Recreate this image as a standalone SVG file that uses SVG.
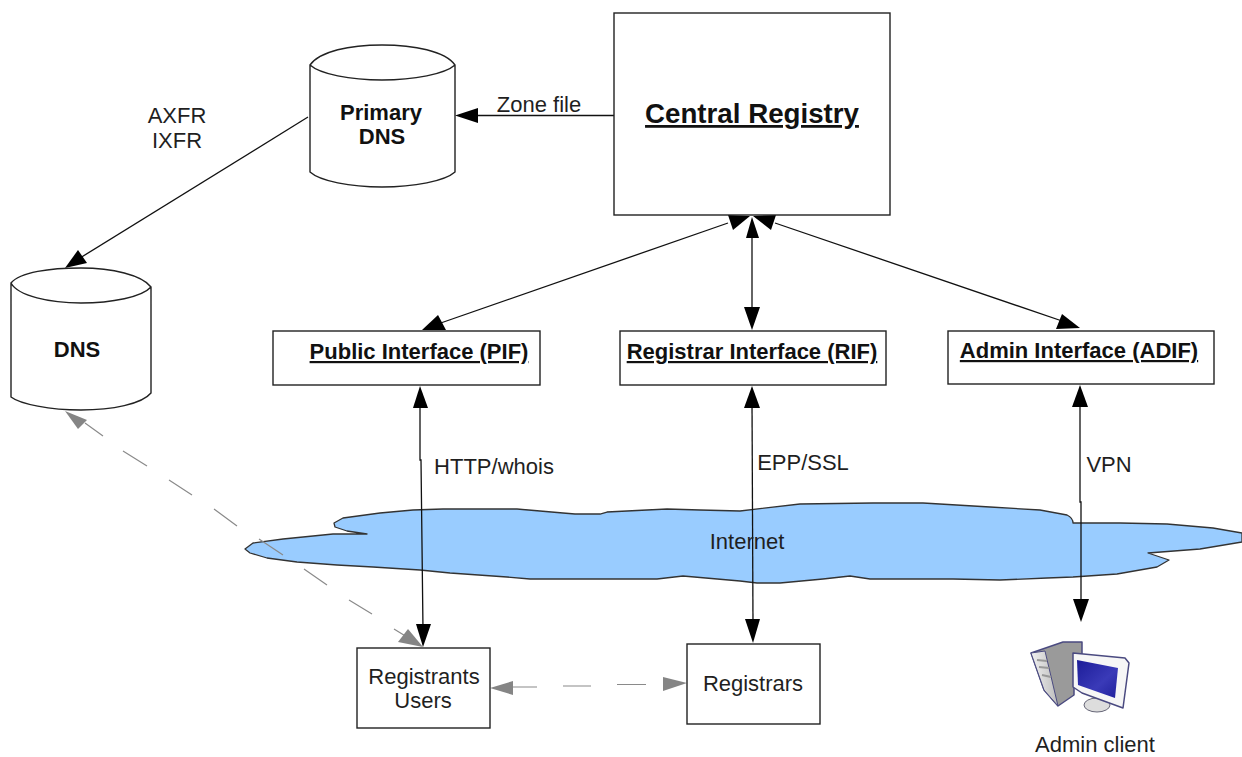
<svg xmlns="http://www.w3.org/2000/svg" width="1242" height="757" viewBox="0 0 1242 757">
<style>
text{font-family:"Liberation Sans",Arial,sans-serif;fill:#1f1f1f;text-anchor:middle;font-size:22px}
.b{font-weight:bold;fill:#111}
.u{text-decoration:underline}
.box{fill:#fff;stroke:#222;stroke-width:1.4}
.l{fill:none;stroke:#111;stroke-width:1.3}
.g{fill:none;stroke:#8a8a8a;stroke-width:1.2}
.ah{fill:#000}.ag{fill:#858585}
</style>
<defs>
<linearGradient id="screen" x1="0" y1="0" x2="1" y2="1"><stop offset="0" stop-color="#1c1c98"/><stop offset="0.6" stop-color="#3a3ab8"/><stop offset="1" stop-color="#20209c"/></linearGradient>
<linearGradient id="tower" x1="0" y1="0" x2="1" y2="0"><stop offset="0" stop-color="#f0f0f0"/><stop offset="1" stop-color="#bdbdbd"/></linearGradient>
</defs>
<rect width="1242" height="757" fill="#fff"/>
<g id="cloud"><path d="M245 549 L253 543 L283 539 L333 534 L347 534 L367 534 L347 531 L335 527 L334 523 L343 518 L380 513 L413 510 L443 509 L517 509 L563 513 L575 514 L600 514 L607 512 L667 509 L700 510 L740 511 L800 504 L873 503 L923 503 L990 507 L1040 510 L1067 515 C1071 517 1073 520 1073 523 L1120 523 L1167 524 L1213 528 L1242 533 L1242 542 L1200 549 L1148 553 L1169 560 L1157 567 L1117 574 L1073 577 L1047 578 L1000 580 L953 579 L870 579 L850 576 L823 579 L780 583 L757 583 L740 581 L683 576 L657 579 L530 579 L507 577 L450 573 L420 570 L373 567 L337 565 L297 562 L267 558 L250 553 Z" fill="#99ccff" stroke="#333" stroke-width="1.300" stroke-linejoin="round"/></g>
<g id="connectors">
<line class="l" x1="308" y1="117" x2="80" y2="258"/>
<polygon class="ah" points="65,268 78,250 87,263"/>
<line class="l" x1="625" y1="115.500" x2="475" y2="115.500"/>
<polygon class="ah" points="455,115.500 478,108 478,123"/>
<line class="l" x1="435" y1="325" x2="728" y2="223"/>
<polygon class="ah" points="422,330 438,315 446,330"/>
<polygon class="ah" points="750,216 728,215 733,230"/>
<line class="l" x1="752" y1="230" x2="752" y2="312"/>
<polygon class="ah" points="752,217 746,238 759,238"/>
<polygon class="ah" points="752,330 744,307 760,307"/>
<line class="l" x1="775" y1="223" x2="1065" y2="322"/>
<polygon class="ah" points="753,216 776,215 771,230"/>
<polygon class="ah" points="1080,328 1056,329 1062,314"/>
<path class="l" d="M420 400 V460 L421 460 L423 630"/>
<polygon class="ah" points="420,386 413,408 428,408"/>
<polygon class="ah" points="423,647 416,624 431,624"/>
<line class="l" x1="752" y1="400" x2="753" y2="625"/>
<polygon class="ah" points="752,386 744,408 760,408"/>
<polygon class="ah" points="753,643 745,619 760,619"/>
<path class="l" d="M1080 400 V502 L1081 502 V605"/>
<polygon class="ah" points="1080,385 1072,407 1088,407"/>
<polygon class="ah" points="1081,622 1073,599 1089,599"/>
<path class="g" d="M85 423 L103 436 M123 451 L147 466 M169 480 L192 495 M214 509 L237 526 M259 539 L283 555 M304 569 L327 585 M349 600 L372 614 M394 629 L407 637"/>
<polygon class="ag" points="65,411 87,420 78,429"/>
<polygon class="ag" points="423,647 398,642 408,629"/>
<path class="g" d="M513 687 H537 M563 686 H591 M617 684.500 H646"/>
<polygon class="ag" points="490,688 513,681 513,695"/>
<polygon class="ag" points="687,683 663,677 663,691"/>
</g>
<g id="primary-dns"><path class="box" d="M310 65 V172 C320 181 350 187 382 187 C414 187 445 181 455 172 V65 C445 51 414 45 382 45 C350 45 320 51 310 65 C320 74 350 80 382 80 C414 80 445 74 455 65"/>
<text class="b" x="381" y="120">Primary</text><text class="b" x="382" y="144">DNS</text></g>
<g id="dns"><path class="box" d="M11 283 V397 C20 404 50 410 81 410 C112 410 142 404 151 393 V287 C142 275 112 268 81 268 C50 268 20 272 11 283 C18 296 50 303 81 303 C112 303 142 297 151 287"/>
<text class="b" x="77" y="357">DNS</text></g>
<g id="central-registry"><rect class="box" x="614" y="13" width="276" height="202"/>
<text class="b u" x="752" y="123" style="font-size:27.7px">Central Registry</text></g>
<g id="pif"><rect class="box" x="273" y="331" width="267" height="54"/>
<text class="b u" x="419" y="359">Public Interface (PIF)</text></g>
<g id="rif"><rect class="box" x="620" y="331" width="266" height="54"/>
<text class="b u" x="752" y="359">Registrar Interface (RIF)</text></g>
<g id="adif"><rect class="box" x="948" y="331" width="266" height="53"/>
<text class="b u" x="1079" y="358">Admin Interface (ADIF)</text></g>
<g id="registrants"><rect class="box" x="357" y="648" width="133" height="80"/>
<text x="424" y="684">Registrants</text><text x="423" y="708">Users</text></g>
<g id="registrars"><rect class="box" x="687" y="644" width="133" height="80"/>
<text x="753" y="691">Registrars</text></g>
<g id="admin-client">
<polygon points="1031,653 1063,642 1082,642 1082,654 1074,668 1074,695 1058,706 1044,690" fill="#9a9a9a" stroke="#4a4a80" stroke-width="1.500" stroke-linejoin="round"/>
<polygon points="1031,653 1045,651 1058,706 1044,690" fill="url(#tower)" stroke="#4a4a80" stroke-linejoin="round"/>
<path d="M1037 660 L1047 661 M1039 667 L1049 668 M1042 675 L1051 677" stroke="#999" stroke-width="2" fill="none"/>
<ellipse cx="1097" cy="705" rx="13" ry="7" fill="#ddd" stroke="#667"/>
<polygon points="1073,653 1125,658 1129,663 1123,708 1082,693 1073,687" fill="#f6f6f6" stroke="#4a4a80" stroke-width="1.500" stroke-linejoin="round"/>
<polygon points="1077,660 1118,668 1115,698 1078,685" fill="url(#screen)"/>
<text x="1095" y="752">Admin client</text></g>
<g id="labels">
<text x="177" y="123">AXFR</text>
<text x="177" y="148">IXFR</text>
<text x="539" y="112">Zone file</text>
<text x="494" y="474">HTTP/whois</text>
<text x="803" y="470">EPP/SSL</text>
<text x="1109" y="472">VPN</text>
<text x="747" y="549">Internet</text>
</g>
</svg>
